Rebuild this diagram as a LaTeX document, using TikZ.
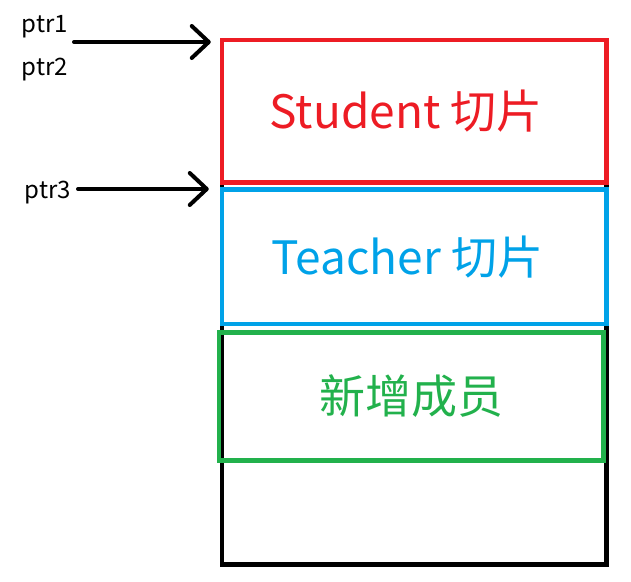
\documentclass[tikz,border=0pt]{standalone}
\usepackage{fontspec}
\setmainfont{Noto Sans CJK SC}
\usepackage{tikz}
\usetikzlibrary{arrows.meta,positioning}
\definecolor{stucolor}{HTML}{ED1C24}
\definecolor{teacolor}{HTML}{00A2E8}
\definecolor{newcolor}{HTML}{22B14C}

\begin{document}
\begin{tikzpicture}[
        x=1pt,
        y=-1pt,
        slot/.style={draw, line width=4.5pt, minimum width=384.5pt, inner sep=0pt, font=\fontsize{46}{50}\selectfont},
        ptrarrow/.style={-{Straight Barb[length=17pt, width=32pt, line cap=round, round]}, line width=4pt, line cap=round},
        ptrlabel/.style={font=\fontsize{24}{26}\selectfont, inner sep=0pt}
    ]
        \useasboundingbox (0,0) rectangle (631,581);

        % whole block of memory
        \node[slot, minimum height=524.5pt] (mem) at (414.25,302.25) {};

        \node[slot, draw=stucolor, text=stucolor, minimum height=142.5pt] (stu) at (414.25,111.25) {Student 切片\hspace*{16pt}};
        \node[slot, draw=teacolor, text=teacolor, minimum height=134.5pt] (tea) at (414.25,256.75) {Teacher 切片\hspace*{14pt}};
        \node[slot, draw=newcolor, text=newcolor, minimum height=128pt] (new) at (411.25,396.5) {新增成员};

        \node[ptrlabel] (ptrone) at (45,27) {ptr1};
        \node[ptrlabel] (ptrtwo) at (45,70) {ptr2};
        \node[ptrlabel] (ptrthree) at (48,193) {ptr3};

        \coordinate (tailone) at (74,42);
        \coordinate (tailthree) at (78,189);

        \draw[ptrarrow, shorten >=9pt] (tailone) -- (tailone -| stu.west);
        \draw[ptrarrow, shorten >=11pt] (tailthree) -- (tailthree -| tea.west);
    \end{tikzpicture}
\end{document}
